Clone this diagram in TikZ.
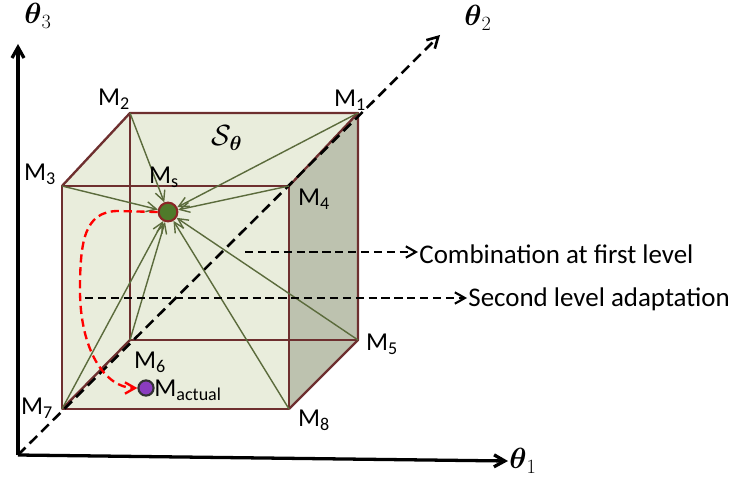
\documentclass[tikz,border=0pt]{standalone}
\usepackage{amsmath,amssymb}
\usepackage{fontspec}
\setmainfont{Carlito}
\usetikzlibrary{arrows.meta,calc}
\definecolor{edgec}{HTML}{6E2F2F}
\definecolor{face}{HTML}{E9EDDC}
\definecolor{side}{HTML}{BDC2AF}
\definecolor{rayc}{HTML}{5B6B3C}
\definecolor{seed}{HTML}{4F7A2A}
\definecolor{act}{HTML}{8A3CC0}
\tikzset{
  edge/.style={draw=edgec, line width=2pt, line join=round},
  ray/.style={-{Straight Barb[length=3mm,width=3mm]}, draw=rayc, line width=1.2pt},
  axis/.style={-{Straight Barb[length=3.2mm,width=3.6mm]}, line width=2.8pt},
  lbl/.style={font=\fontsize{22}{24}\selectfont, inner sep=1pt},
  big/.style={font=\fontsize{25}{27}\selectfont, inner sep=1pt},
  note/.style={-{Straight Barb[length=3mm,width=3.4mm]}, line width=1.8pt,
               dash pattern=on 7pt off 4pt},
}

\begin{document}
\begin{tikzpicture}[x=0.03cm, y=-0.03cm]
  \useasboundingbox (0,0) rectangle (732,481);
  % cube corners
  \coordinate (m3) at (62,186);  \coordinate (m4) at (289,186);
  \coordinate (m8) at (289,409); \coordinate (m7) at (62,409);
  \coordinate (m2) at (130,113); \coordinate (m1) at (358,113);
  \coordinate (m5) at (358,340); \coordinate (m6) at (130,340);
  % faces
  \fill[face] (m7) -- (m3) -- (m2) -- (m1) -- (m5) -- (m8) -- cycle;
  \fill[side] (m4) -- (m1) -- (m5) -- (m8) -- cycle;
  % edges
  \draw[edge] (m2) -- (m6) -- (m5); \draw[edge] (m6) -- (m7);
  \draw[edge] (m3) -- (m4) -- (m8) -- (m7) -- cycle;
  \draw[edge] (m3) -- (m2) -- (m1) -- (m4); \draw[edge] (m1) -- (m5) -- (m8);
  % axes
  \coordinate (o) at (18,455);
  \node[big] (t3) at (38,16) {$\boldsymbol{\theta}_3$};
  \node[big] (t2) at (478,18) {$\boldsymbol{\theta}_2$};
  \node[big, anchor=west] (t1) at (508,461) {$\boldsymbol{\theta}_1$};
  \draw[axis] (o) -- (18,44);
  \draw[axis] (o) -- (t1.west);
  \draw[axis, dash pattern=on 9pt off 5pt, line width=2.2pt] (o) -- (440,35);
  % points
  \node[circle, fill=seed, draw=edgec!80!red, line width=1.8pt, minimum size=16pt, inner sep=0pt] (ms) at (168,212) {};
  \node[circle, fill=act, draw=black!80, line width=1.8pt, minimum size=13pt, inner sep=0pt] (ma) at (146,388) {};
  \foreach \c in {m1,m2,m3,m4,m5,m6,m7,m8} \draw[ray] (\c) -- (ms);
  \draw[red, -{Straight Barb[length=3mm,width=3.4mm]}, line width=2pt, dash pattern=on 7pt off 4pt]
    (ms.west) -- (117,211) .. controls (85,212) and (80,240) .. (80,290)
    .. controls (80,350) and (105,388) .. (ma.west);
  % labels
  \node[lbl] (l1) at (350,100) {M\textsubscript{1}};
  \node[lbl] (l2) at (114,99) {M\textsubscript{2}};
  \node[lbl] (l3) at (40,174) {M\textsubscript{3}};
  \node[lbl] (l4) at (314,199) {M\textsubscript{4}};
  \node[lbl] (l5) at (382,344) {M\textsubscript{5}};
  \node[lbl] (l6) at (150,362) {M\textsubscript{6}};
  \node[lbl] (l7) at (37,408) {M\textsubscript{7}};
  \node[lbl] (l8) at (314,420) {M\textsubscript{8}};
  \node[lbl] (ls) at (164,177) {M\textsubscript{s}};
  \node[lbl, anchor=west] (la) at (153,390) {M\textsubscript{actual}};
  \node[big] (sth) at (227,138) {$\mathcal{S}_{\boldsymbol{\theta}}$};
  % notes
  \node[lbl, font=\fontsize{23}{25}\selectfont, anchor=west] (comb) at (418,254) {Combination at first level};
  \node[lbl, font=\fontsize{23}{25}\selectfont, anchor=west] (adapt) at (467,299) {Second level adaptation};
  \coordinate (c0) at (245,252);
  \coordinate (a0) at (85,298);
  \draw[note] (c0) -- (c0 -| comb.west);
  \draw[note] (a0) -- (a0 -| adapt.west);
\end{tikzpicture}
\end{document}
